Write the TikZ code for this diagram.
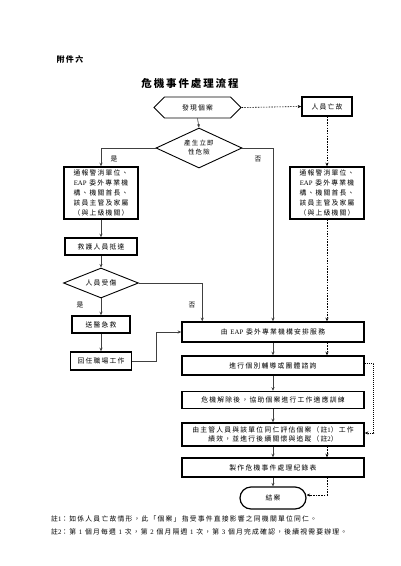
\documentclass[tikz,border=0pt]{standalone}
\usepackage{fontspec}
\setmainfont{Noto Sans CJK TC}[LetterSpace=18]
\newfontfamily\lat{Liberation Serif}
\usetikzlibrary{shapes.geometric,shapes.symbols,arrows.meta}
\newcommand\fsz[2]{\fontsize{#1}{#2}\selectfont}
\begin{document}
\begin{tikzpicture}[x=1pt,y=-1pt,
  box/.style={draw, line width=1.5pt, align=center, inner sep=0pt, font=\fsz{6.8}{10}},
  thin/.style={draw, line width=0.9pt, align=center, inner sep=0pt, font=\fsz{6.8}{9}},
  arr/.style={draw=black!75, line width=0.6pt, -{Stealth[length=3.5pt,width=3pt]}},
  dsh/.style={draw=black, line width=0.6pt, dash pattern=on 1.5pt off 1.2pt, -{Stealth[length=3.5pt,width=3pt]}},
  lbl/.style={font=\fsz{6.8}{8}, inner sep=0pt}]
\fill[white] (0,0) rectangle (400,566);
\useasboundingbox (0,0) rectangle (400,566);
% headings
\node[font=\fsz{8}{9}\bfseries, inner sep=0pt] (att) at (70,59) {附件六};
\node[font=\fsz{10.5}{12}\bfseries, inner sep=0pt] (title) at (190,83) {危機事件處理流程};
% nodes
\node[thin, signal, signal to=west and east, signal pointer angle=90,
      minimum width=87pt, minimum height=21pt] (hex) at (197.5,107.5) {發現個案};
\node[box, minimum width=50pt, minimum height=19pt] (death) at (327,106.5) {人員亡故};
\node[thin, diamond, aspect=2.2, inner sep=0.5pt, minimum width=86pt, minimum height=40pt,
      font=\fsz{6.5}{9}] (d1) at (199,148) {產生立即\\性危險};
\node[box, minimum width=74pt, minimum height=52pt] (n1) at (101,193)
  {通報警消單位、\\{\lat EAP} 委外專業機\\構、機關首長、\\該員主管及家屬\\（與上級機關）};
\node[box, minimum width=74pt, minimum height=52pt] (n2) at (327,193)
  {通報警消單位、\\{\lat EAP} 委外專業機\\構、機關首長、\\該員主管及家屬\\（與上級機關）};
\node[box, minimum width=72pt, minimum height=17pt] (rescue) at (101,246.5) {救護人員抵達};
\node[thin, diamond, aspect=2.5, inner sep=0.5pt, minimum width=75pt, minimum height=30pt]
  (d2) at (101,283) {人員受傷};
\node[box, minimum width=58pt, minimum height=17pt] (hosp) at (101,324.5) {送醫急救};
\node[box, minimum width=61pt, minimum height=18pt] (back) at (101,361) {回任職場工作};
\node[box, minimum width=182pt, minimum height=20pt] (eap) at (273,332) {由 {\lat EAP} 委外專業機構安排服務};
\node[box, minimum width=182pt, minimum height=19pt] (counsel) at (273,365.5) {進行個別輔導或團體諮詢};
\node[box, minimum width=182pt, minimum height=17pt] (adapt) at (273,400) {危機解除後，協助個案進行工作適應訓練};
\node[box, minimum width=182pt, minimum height=23pt, font=\fsz{6.8}{8.5}] (eval) at (273,434.5)
  {由主管人員與該單位同仁評估個案（註{\lat 1}）工作\\績效，並進行後續關懷與追蹤（註{\lat 2}）};
\node[box, minimum width=182pt, minimum height=19pt] (record) at (273,467.5) {製作危機事件處理紀錄表};
\node[draw, line width=1.2pt, rounded corners=11pt, minimum width=66pt, minimum height=22pt,
      inner sep=0pt, font=\fsz{6.8}{9}] (end) at (273,498) {結案};
% labels
\node[lbl] (y1) at (114,159) {是};
\node[lbl] (n1l) at (258,159) {否};
\node[lbl] (y2) at (80,305) {是};
\node[lbl] (n2l) at (192,305) {否};
% connectors
\draw[arr] (hex.south) -- (d1.north);
\draw[dsh] (hex.east) -- (death.west);
\draw[dsh] (death.south) -- (n2.north);
\draw[arr] (d1.west) -| (n1.north);
\draw[arr] (d1.east) -| (eap.north);
\draw[arr] (n1.south) -- (rescue.north);
\draw[arr] (rescue.south) -- (d2.north);
\draw[arr] (d2.south) -- (hosp.north);
\draw[arr] (d2.east) -| ([xshift=21pt]eap.north west);
\draw[arr] (hosp.south) -- (back.north);
\draw[arr] (back.east) -- ++(24,0) |- (eap.west);
\draw[dsh] (n2.south) -- (n2.south |- eap.north);
\draw[arr] (eap.south) -- (counsel.north);
\draw[dsh] (eap.south -| n2.south) -- (counsel.north -| n2.south);
\draw[arr] (counsel.south) -- (adapt.north);
\draw[arr] (adapt.south) -- (eval.north);
\draw[dsh, dash pattern=on 1pt off 1pt] ([yshift=2.5pt]counsel.east) -- ++(9,0) |- ([yshift=1.5pt]eval.east);
\draw[arr] (eval.south) -- (record.north);
\draw[dsh] (eval.south -| n2.south) -- (record.north -| n2.south);
\draw[arr] (record.south) -- (end.north);
\draw[dsh] (record.south -| n2.south) |- ([yshift=3pt]end.east);
% notes
\node[anchor=west, inner sep=0pt, font=\fsz{6.8}{9}] (note1) at (51,519)
  {註{\lat 1}：如係人員亡故情形，此「個案」指受事件直接影響之同機關單位同仁。};
\node[anchor=west, inner sep=0pt, font=\fsz{6.8}{9}] (note2) at (51,532)
  {註{\lat 2}：第 {\lat 1} 個月每週 {\lat 1} 次，第 {\lat 2} 個月隔週 {\lat 1} 次，第 {\lat 3} 個月完成確認，後續視需要辦理。};
\end{tikzpicture}
\end{document}
